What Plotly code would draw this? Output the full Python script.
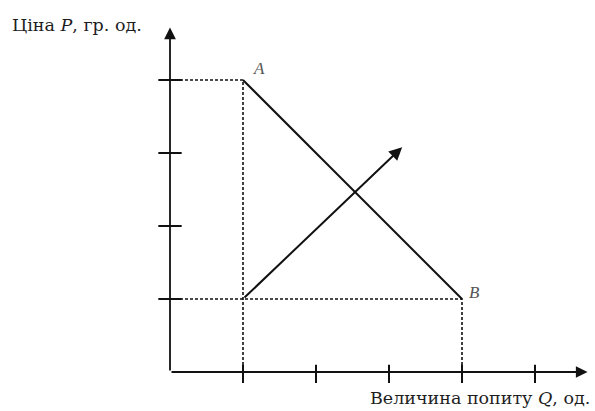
import plotly.graph_objects as go

# Data (in axis units)
x_ticks = [1, 2, 3, 4, 5]
y_ticks = [1, 2, 3, 4]
point_A = (1, 4)
point_B = (4, 1)
shift_start = (1, 1)
shift_end = (3.18, 3.08)
x_axis_end = 5.72
y_axis_end = 4.72
y_label = "Ціна <i>P</i>, гр. од."
x_label = "Величина попиту <i>Q</i>, од."

PX = 73.0  # pixels per unit
X0, Y0 = 170.0, 372.0  # origin pixel
W, H = 595, 411
xr = [-X0 / PX, (W - X0) / PX]
yr = [-(H - Y0) / PX, Y0 / PX]

col = "#111111"
serif = "DejaVu Serif, serif"
tcol = "#1e1e1e"

fig = go.Figure()

# Demand line A-B
fig.add_trace(go.Scatter(x=[point_A[0], point_B[0]], y=[point_A[1], point_B[1]],
                         mode="lines", line=dict(color=col, width=2), hoverinfo="skip"))

# Dashed guide lines
dash = dict(color=col, width=1.6, dash="3px,2px")
fig.add_trace(go.Scatter(x=[0, point_A[0], point_A[0]], y=[point_A[1], point_A[1], 0],
                         mode="lines", line=dash, hoverinfo="skip"))
fig.add_trace(go.Scatter(x=[0, point_B[0], point_B[0]], y=[point_B[1], point_B[1], 0],
                         mode="lines", line=dash, hoverinfo="skip"))

# Ticks
tx, ty = [], []
for t in x_ticks:
    tx += [t, t, None]
    ty += [-0.15, 0.1, None]
for t in y_ticks:
    tx += [-0.16, 0.16, None]
    ty += [t, t, None]
fig.add_trace(go.Scatter(x=tx, y=ty, mode="lines", line=dict(color=col, width=2),
                         hoverinfo="skip"))

# Axes with arrows
fig.add_annotation(x=x_axis_end, y=0, ax=0, ay=0, xref="x", yref="y", axref="x", ayref="y",
                   showarrow=True, arrowhead=2, arrowsize=1.3, arrowwidth=1.8,
                   arrowcolor=col, text="")
fig.add_annotation(x=0, y=y_axis_end, ax=0, ay=0, xref="x", yref="y", axref="x", ayref="y",
                   showarrow=True, arrowhead=2, arrowsize=1.3, arrowwidth=1.8,
                   arrowcolor=col, text="")
# Shift arrow
fig.add_annotation(x=shift_end[0], y=shift_end[1], ax=shift_start[0], ay=shift_start[1],
                   xref="x", yref="y", axref="x", ayref="y",
                   showarrow=True, arrowhead=2, arrowsize=1.3, arrowwidth=2,
                   arrowcolor=col, text="")

# Point labels
fig.add_annotation(x=(259 - X0) / PX, y=(Y0 - 68) / PX, text="<i>A</i>", showarrow=False,
                   xanchor="center", yanchor="middle",
                   font=dict(family="Liberation Serif, serif", size=17, color="#555"))
fig.add_annotation(x=(474 - X0) / PX, y=(Y0 - 292) / PX, text="<i>B</i>", showarrow=False,
                   xanchor="center", yanchor="middle",
                   font=dict(family="Liberation Serif, serif", size=17, color="#555"))

# Axis titles
fig.add_annotation(x=(10 - X0) / PX, y=(Y0 - 25) / PX, text=y_label,
                   showarrow=False, xanchor="left", yanchor="middle",
                   font=dict(family=serif, size=17.5, color=tcol))
fig.add_annotation(x=(592 - X0) / PX, y=(Y0 - 398) / PX, text=x_label,
                   showarrow=False, xanchor="right", yanchor="middle",
                   font=dict(family=serif, size=17.5, color=tcol))

fig.update_xaxes(range=xr, visible=False)
fig.update_yaxes(range=yr, visible=False)
fig.update_layout(width=W, height=H, margin=dict(l=0, r=0, t=0, b=0),
                  plot_bgcolor="white", paper_bgcolor="white", showlegend=False)

fig.write_html("out.html", config={"displayModeBar": False},
               post_script="document.body.style.margin='0';")
